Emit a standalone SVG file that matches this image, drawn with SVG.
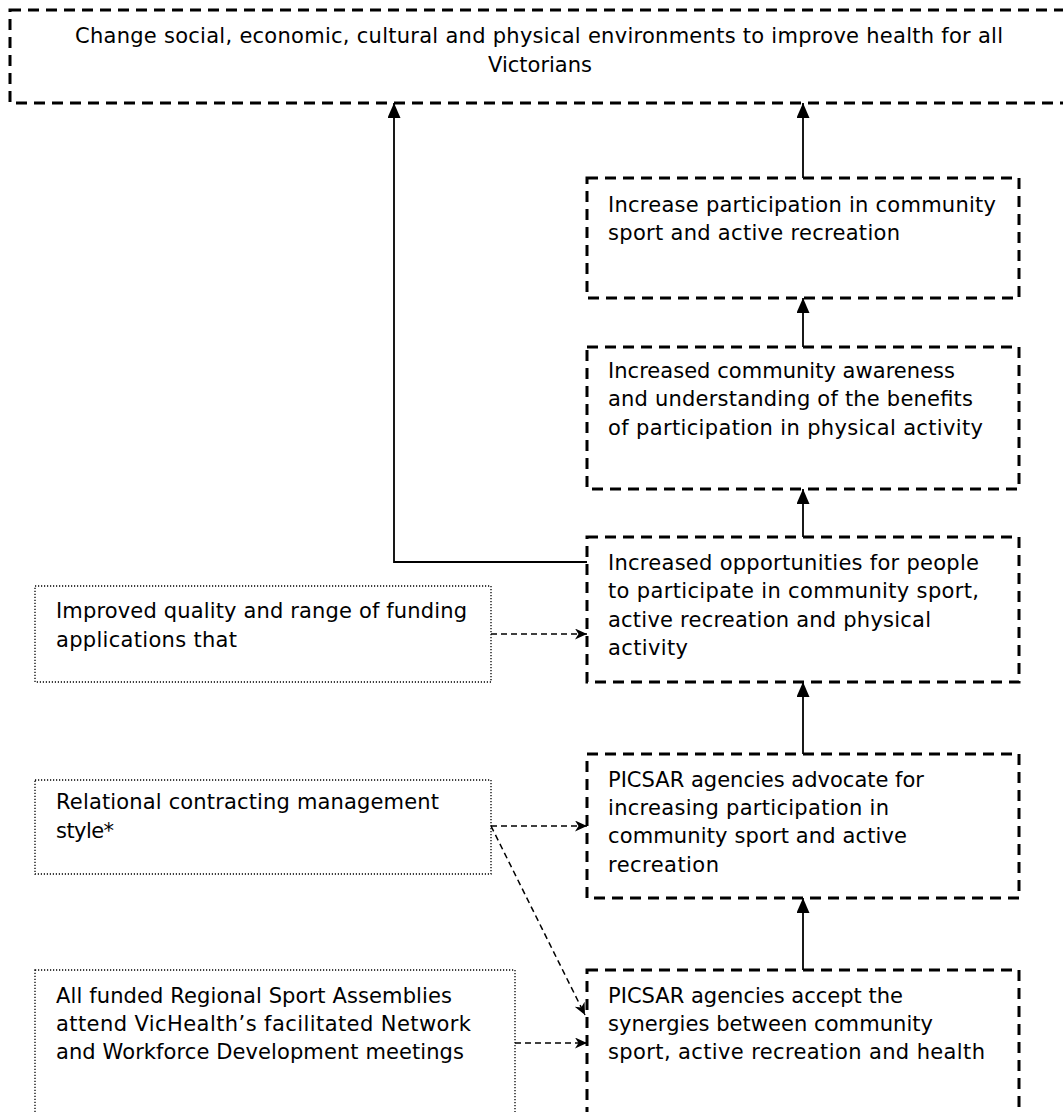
<svg xmlns="http://www.w3.org/2000/svg" width="1063" height="1112" viewBox="0 0 1063 1112">
<style>
  .bg { fill: #ffffff; }
  .outcome { fill: none; stroke: #000; stroke-width: 3; stroke-dasharray: 11 7; }
  .input { fill: none; stroke: #000; stroke-width: 1.3; stroke-dasharray: 1.2 1.8; }
  .t { font-family: "DejaVu Sans", "Liberation Sans", sans-serif; font-size: 21px; fill: #000; }
  .solid { fill: none; stroke: #000; stroke-width: 1.8; marker-end: url(#tri); }
  .dash { fill: none; stroke: #000; stroke-width: 1.5; stroke-dasharray: 6 4; marker-end: url(#stealth); }
</style>
<defs>
  <marker id="tri" markerUnits="userSpaceOnUse" markerWidth="16" markerHeight="14" refX="15" refY="6.5" orient="auto">
    <path d="M0,0 L15,6.5 L0,13 z" fill="#000"/>
  </marker>
  <marker id="stealth" markerUnits="userSpaceOnUse" markerWidth="14" markerHeight="12" refX="12" refY="5.5" orient="auto">
    <path d="M0,0 L12,5.5 L0,11 L3.5,5.5 z" fill="#000"/>
  </marker>
</defs>
<rect class="bg" x="0" y="0" width="1063" height="1112"/>

<g id="connectors">
  <path class="solid" d="M803,178 L803,103"/>
  <path class="solid" d="M803,347 L803,298"/>
  <path class="solid" d="M803,537 L803,489"/>
  <path class="solid" d="M803,754 L803,682"/>
  <path class="solid" d="M803,970 L803,898"/>
  <path class="solid" d="M587,562 L394,562 L394,103"/>
  <path class="dash" d="M491,634 L587,634"/>
  <path class="dash" d="M491,826 L587,826"/>
  <path class="dash" d="M491,826 L585,1015"/>
  <path class="dash" d="M515,1043 L587,1043"/>
</g>

<g id="goal">
  <rect class="outcome" x="10" y="10" width="1060" height="93"/>
  <text class="t" x="539" y="43" text-anchor="middle" textLength="928">Change social, economic, cultural and physical environments to improve health for all</text>
  <text class="t" x="540" y="72" text-anchor="middle">Victorians</text>
</g>

<g id="participation">
  <rect class="outcome" x="587" y="178" width="432" height="120"/>
  <text class="t" x="608" y="212" textLength="388">Increase participation in community</text>
  <text class="t" x="608" y="240" textLength="292">sport and active recreation</text>
</g>

<g id="awareness">
  <rect class="outcome" x="587" y="347" width="432" height="142"/>
  <text class="t" x="608" y="378" textLength="347">Increased community awareness</text>
  <text class="t" x="608" y="406" textLength="365">and understanding of the benefits</text>
  <text class="t" x="608" y="435" textLength="375">of participation in physical activity</text>
</g>

<g id="opportunities">
  <rect class="outcome" x="587" y="537" width="432" height="145"/>
  <text class="t" x="608" y="570" textLength="371">Increased opportunities for people</text>
  <text class="t" x="608" y="598" textLength="371">to participate in community sport,</text>
  <text class="t" x="608" y="627" textLength="323">active recreation and physical</text>
  <text class="t" x="608" y="655" textLength="80">activity</text>
</g>

<g id="advocate">
  <rect class="outcome" x="587" y="754" width="432" height="144"/>
  <text class="t" x="608" y="787" textLength="316">PICSAR agencies advocate for</text>
  <text class="t" x="608" y="815" textLength="281">increasing participation in</text>
  <text class="t" x="608" y="843" textLength="299">community sport and active</text>
  <text class="t" x="608" y="872" textLength="111">recreation</text>
</g>

<g id="synergies">
  <rect class="outcome" x="587" y="970" width="432" height="200"/>
  <text class="t" x="608" y="1003" textLength="295">PICSAR agencies accept the</text>
  <text class="t" x="608" y="1031" textLength="325">synergies between community</text>
  <text class="t" x="608" y="1059" textLength="377">sport, active recreation and health</text>
</g>

<g id="funding">
  <rect class="input" x="35" y="586" width="456" height="96"/>
  <text class="t" x="56" y="618" textLength="411">Improved quality and range of funding</text>
  <text class="t" x="56" y="647" textLength="181">applications that</text>
</g>

<g id="relational">
  <rect class="input" x="35" y="780" width="456" height="94"/>
  <text class="t" x="56" y="809" textLength="383">Relational contracting management</text>
  <text class="t" x="56" y="838" textLength="58">style*</text>
</g>

<g id="assemblies">
  <rect class="input" x="35" y="970" width="480" height="200"/>
  <text class="t" x="56" y="1003" textLength="396">All funded Regional Sport Assemblies</text>
  <text class="t" x="56" y="1031" textLength="415">attend VicHealth’s facilitated Network</text>
  <text class="t" x="56" y="1059" textLength="408">and Workforce Development meetings</text>
</g>
</svg>
